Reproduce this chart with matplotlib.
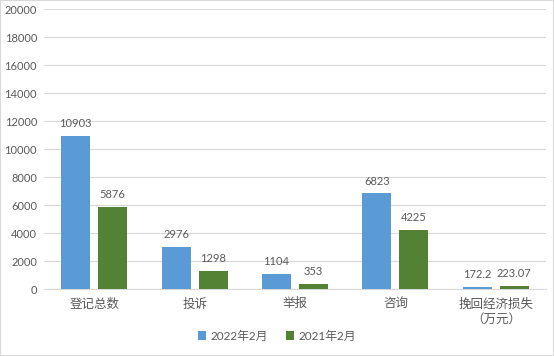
import numpy as np
import matplotlib
matplotlib.use("Agg")
import matplotlib.pyplot as plt

plt.rcParams['font.family'] = ['Lato', 'Noto Sans CJK SC', 'DejaVu Sans']

categories = ['登记总数', '投诉', '举报', '咨询', '挽回经济损失\n（万元）']
vals_2022 = [10903, 2976, 1104, 6823, 172.2]
vals_2021 = [5876, 1298, 353, 4225, 223.07]
labels_2022 = ['10903', '2976', '1104', '6823', '172.2']
labels_2021 = ['5876', '1298', '353', '4225', '223.07']
yticks = [0, 2000, 4000, 6000, 8000, 10000, 12000, 14000, 16000, 18000, 20000]

blue = '#5B9BD5'
green = '#548235'
txt = '#595959'

fig = plt.figure(figsize=(5.54, 3.56), dpi=100)
ax = fig.add_axes([44/554, 67/356, 502/554, 280/356])

x = np.arange(len(categories))
w = 0.29
off = 0.184
b1 = ax.bar(x - off, vals_2022, w, color=blue, label='2022年2月', zorder=3)
b2 = ax.bar(x + off, vals_2021, w, color=green, label='2021年2月', zorder=3)

# value labels on top of bars
for bars, labs in ((b1, labels_2022), (b2, labels_2021)):
    for r, lab in zip(bars, labs):
        ax.annotate(lab, (r.get_x() + r.get_width()/2, r.get_height()),
                    xytext=(0, 5), textcoords='offset points',
                    ha='center', va='bottom', fontsize=8, color=txt)

ax.set_xlim(-0.5, len(categories) - 0.5)
ax.set_ylim(0, 20000)
ax.set_yticks(yticks)
ax.set_yticklabels([str(t) for t in yticks], fontsize=8, color=txt)
ax.set_xticks(x)
ax.set_xticklabels(categories, fontsize=9, color=txt, linespacing=1.35)
ax.tick_params(axis='both', length=0)
ax.tick_params(axis='x', pad=6)
ax.tick_params(axis='y', pad=5)
ax.grid(axis='y', color='#D9D9D9', linewidth=0.8, zorder=0)
for s in ['top', 'right', 'left']:
    ax.spines[s].set_visible(False)
ax.spines['bottom'].set_color('#D9D9D9')

leg = fig.legend(loc='center', bbox_to_anchor=(0.5, 20/356), ncol=2, frameon=False,
                 fontsize=8.5, handlelength=0.7, handleheight=0.7, handletextpad=0.4,
                 columnspacing=1.5)
for t in leg.get_texts():
    t.set_color(txt)

fig.patches.append(plt.Rectangle((0, 0), 1, 1, transform=fig.transFigure,
                                 fill=False, edgecolor='#D9D9D9', linewidth=1.5))

fig.savefig('out.png', dpi=100)
